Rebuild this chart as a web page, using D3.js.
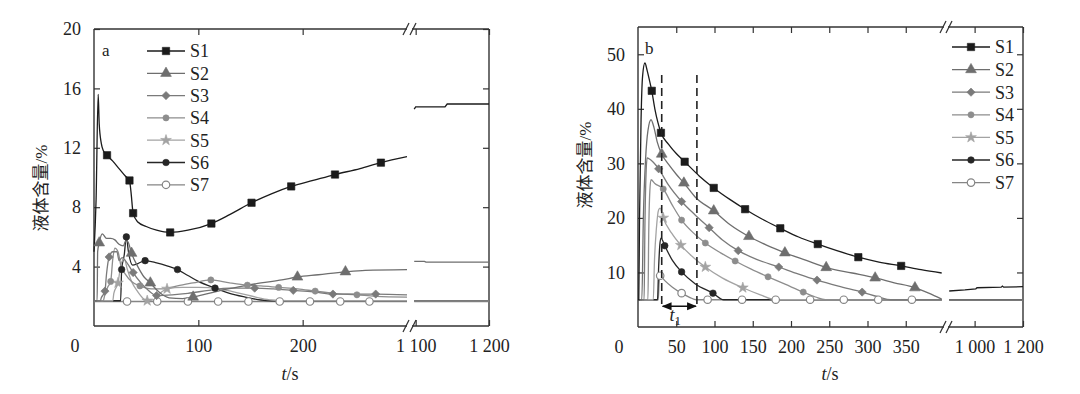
<!DOCTYPE html>
<html>
<head>
<meta charset="utf-8">
<script src="https://cdn.jsdelivr.net/npm/d3@7"></script>
<style>
  body { margin: 0; background: #fff; }
  svg { display: block; }
  text { font-family: "Liberation Serif", "Times New Roman", serif; fill: #222; }
  .cjk { font-family: "Noto Sans CJK SC", "Noto Sans CJK JP", sans-serif; }
</style>
</head>
<body>
<div id="chart"></div>
<script>
// series names and look
const seriesNames = ["S1", "S2", "S3", "S4", "S5", "S6", "S7"];
const seriesColors = ["#1b1b1b", "#6e6e6e", "#7a7a7a", "#8d8d8d", "#a3a3a3", "#262626", "#858585"];

// panel a : [t (s), liquid content (%), 1 = marker drawn]
const aS1 = [[0,5.0],[2,8.5],[4,15.6],[5,13.6],[7,12.3],[9,11.8],[12.5,11.5,1],[18,11.1],[24,10.6],[30,10.1],[34,9.8,1],[35.5,9.0],[37.5,7.6,1],[42,7.0],[50,6.7],[60,6.45],[73,6.3,1],[90,6.45],[112.5,6.9,1],[130,7.5],[151,8.3,1],[170,8.9],[189,9.4,1],[210,9.8],[231,10.2,1],[255,10.6],[275,11.0,1],[300,11.4]];
const aS2 = [[0,1.7],[3,1.7],[3.5,5.0],[5,5.6,1],[8,6.2],[12,5.9],[16,5.9],[20,5.8],[24,5.5],[28,5.4],[31,5.8],[33,5.6],[36,4.9,1],[42,4.0],[48,3.3],[54,2.9,1],[62,2.3],[72,1.9],[85,1.85],[95,1.95,1],[110,2.2],[125,2.45],[140,2.65],[160,2.9],[180,3.1],[195,3.3,1],[215,3.45],[241,3.65,1],[260,3.75],[300,3.8]];
const aS3 = [[0,1.7],[6,1.7],[7,1.9],[10.5,2.35,1],[12,3.5],[14.5,4.65,1],[18,5.0],[22,5.0],[24,4.4],[27,4.6],[30,4.4],[34,4.0],[37.5,3.6,1],[45,2.9],[52,2.4],[60,2.05,1],[75,2.1],[90,2.2],[110,2.4],[130,2.55],[154,2.55,1],[172,2.5],[191,2.4,1],[210,2.3],[229,2.15,1],[250,2.15],[270,2.15,1],[300,2.1]];
const aS4 = [[0,1.7],[9,1.7],[10,2.0],[13,2.6],[16,3.0,1],[18,4.5],[20,5.25],[23,5.0],[26,4.0],[30,3.5],[36,3.0],[44,2.7,1],[55,2.5],[65,2.5],[80,2.7],[95,2.9],[112,3.1,1],[130,2.9],[147,2.75,1],[160,2.7],[177,2.6,1],[195,2.5],[212,2.35,1],[230,2.2],[252,2.1,1],[270,2.0],[300,1.95]];
const aS5 = [[0,1.7],[18,1.7],[19,2.2],[23,2.9,1],[26,4.2],[29,4.5],[32,3.8],[36,3.0],[42,2.3],[48,1.8],[51,1.7,1],[58,1.8],[65,2.3],[70,2.5,1],[85,2.6],[100,2.6],[120,2.5],[140,2.2],[158,1.9],[170,1.75],[185,1.7],[300,1.7]];
const aS6 = [[0,1.7],[25.5,1.7],[26.5,3.8,1],[29,4.8],[31,6.0,1],[33,5.0],[37,4.1],[42,4.2],[49,4.4,1],[60,4.25],[70,4.05],[80,3.8,1],[90,3.4],[100,3.0],[116,2.55,1],[130,2.2],[145,1.95],[160,1.75],[170,1.7],[300,1.7]];
const aS7 = [[0,1.65],[31.7,1.65,1],[60.6,1.65,1],[90,1.65,1],[119,1.65,1],[148,1.65,1],[178,1.65,1],[207,1.65,1],[236,1.65,1],[264,1.65,1],[300,1.65]];
// panel a, after the axis break
const aS1Far = [[1098,14.6],[1100,14.75],[1140,14.75],[1143,14.95],[1200,14.95]];
const aS2Far = [[1098,4.35],[1112,4.35],[1114,4.3],[1200,4.3]];
const aS3Far = [[1098,1.7],[1200,1.7]];
const aS4Far = [[1098,1.7],[1200,1.7]];
const aS5Far = [[1098,1.7],[1200,1.7]];
const aS6Far = [[1098,1.7],[1200,1.7]];
const aS7Far = [[1098,1.65],[1200,1.65]];

// panel b
const bS1 = [[0,5.0],[1,5.0],[2,20],[4,38],[6,46],[9,48.4],[12,47],[15,45.2],[18,43.3,1],[22,40],[26,37.5],[30,35.6,1],[40,33.5],[50,31.8],[61,30.3,1],[80,27.7],[99,25.5,1],[120,23.4],[140,21.6,1],[162,19.8],[186,18.1,1],[210,16.5],[235,15.2,1],[260,14.0],[288,12.8,1],[315,11.9],[344,11.2,1],[370,10.5],[397,9.9]];
const bS2 = [[0,5.0],[5,5.0],[7,20],[10,31],[13,36],[17,38],[21,36.5],[25,34],[31,31.7,1],[40,29.8],[50,28],[60,26.4,1],[75,23.8],[99,21.3,1],[120,18.8],[145,16.6,1],[168,15],[192,13.6,1],[220,12.2],[246,10.9,1],[280,9.9],[310,9.0,1],[335,8.1],[362,7.2,1],[380,6.2],[397,5.1]];
const bS3 = [[0,5.0],[8,5.0],[9,18],[10.5,28],[12,31],[15,30.8],[20,30.2],[27,29,1],[40,26],[57,23,1],[75,20.5],[93,18.2,1],[110,16],[131,14.0,1],[155,12.4],[184,11.0,1],[210,9.7],[234,8.6,1],[262,7.5],[293,6.4,1],[315,5.5],[330,5.0],[397,5.0]];
const bS4 = [[0,5.0],[13,5.0],[14,17],[15.5,25],[17,27],[22,26.3],[33,25.3,1],[45,22.3],[57,19.6,1],[72,17.3],[88,15.4,1],[108,13.6],[127,12.1,1],[148,10.6],[170,9.2,1],[193,7.8],[216,6.4,1],[232,5.5],[245,5.0],[397,5.0]];
const bS5 = [[0,5.0],[20,5.0],[21.5,12],[24,18],[27,21.5],[29,21.8],[33,20,1],[44,17.2],[56,15.0,1],[72,12.8],[88,11.0,1],[110,9.0],[137,7.2,1],[160,5.9],[180,5.0],[397,5.0]];
const bS6 = [[0,5.0],[25.5,5.0],[27,11],[28.5,15],[30,16.3],[35,14.9,1],[45,12.2],[57,10.1,1],[75,7.9],[98,6.2,1],[112,5.0],[397,5.0]];
const bS7 = [[0,5.0],[26.5,5.0],[27.5,8],[29,9.4,1],[35,8.5],[45,7.3],[57,6.2,1],[68,5.4],[76,5.0],[91,5.0,1],[136,5.0,1],[180,5.0,1],[225,5.0,1],[269,5.0,1],[314,5.0,1],[358,5.0,1],[397,5.0]];
const bS1Far = [[895,6.6],[960,6.8],[1005,7.0],[1010,7.2],[1110,7.3],[1115,7.5],[1120,7.3],[1200,7.4]];
const bRestFar = [[895,5.0],[1200,5.0]];

// ticks
const aYTicks = [4, 8, 12, 16, 20];
const aXTicksNear = [100, 200];
const aXTicksFar = [1100, 1200];
const bYTicks = [10, 20, 30, 40, 50];
const bXTicksNear = [50, 100, 150, 200, 250, 300, 350];
const bXTicksFar = [1000, 1200];

// dashed markers and t1 span in panel b
const bDashT = [31, 77];
const bDashV = [3.7, 46.2];

const width = 1080, height = 394;

const svg = d3.select("#chart").append("svg")
    .attr("width", width)
    .attr("height", height);

svg.append("defs").append("marker")
    .attr("id", "arrow")
    .attr("viewBox", "0 0 10 10")
    .attr("refX", 9).attr("refY", 5)
    .attr("markerWidth", 7).attr("markerHeight", 7)
    .attr("orient", "auto-start-reverse")
    .append("path")
    .attr("d", "M0,1 L10,5 L0,9 Z")
    .attr("fill", "#111");

// S3 diamond = square turned 45 degrees
const symbolTypes = [d3.symbolSquare, d3.symbolTriangle, d3.symbolSquare, d3.symbolCircle, d3.symbolStar, d3.symbolCircle, d3.symbolCircle];
const symbolSizes = [54, 50, 34, 30, 36, 34, 44];

function fmtTick(d) {
    // "1 100" style thousands
    return d >= 1000 ? String(d).replace(/(\d)(\d{3})$/, "$1 $2") : String(d);
}

function styleAxis(a) {
    a.select(".domain").remove();
    a.attr("font-family", null).attr("font-size", 18);
    a.selectAll("line").attr("stroke", "#333").attr("stroke-width", 1.2);
    a.selectAll("text").attr("fill", "#222");
}

function drawMarker(g, i, x, y) {
    g.append("path")
        .attr("transform", `translate(${x},${y})` + (i === 2 ? " rotate(45)" : ""))
        .attr("d", d3.symbol().type(symbolTypes[i]).size(symbolSizes[i])())
        .attr("fill", i === 6 ? "#fff" : seriesColors[i])
        .attr("stroke", seriesColors[i])
        .attr("stroke-width", i === 6 ? 1.2 : 0.6);
}

function drawPanel(p) {
    const g = svg.append("g");
    const [x0, xb1] = p.xNear.range();
    const [xb2, xEnd] = p.xFar.range();
    const [yB, yT] = p.y.range();

    // axes (inward ticks)
    g.append("g").attr("transform", `translate(0,${yB})`)
        .call(d3.axisBottom(p.xNear).tickValues(p.xTicksNear).tickSizeInner(-6).tickSizeOuter(0).tickPadding(13).tickFormat(fmtTick))
        .call(styleAxis);
    g.append("g").attr("transform", `translate(0,${yB})`)
        .call(d3.axisBottom(p.xFar).tickValues(p.xTicksFar).tickSizeInner(-6).tickSizeOuter(0).tickPadding(13).tickFormat(fmtTick))
        .call(styleAxis);
    g.append("g").attr("transform", `translate(0,${yT})`)
        .call(d3.axisTop(p.xNear).tickValues(p.xTicksNear).tickSizeInner(-6).tickSizeOuter(0).tickFormat(""))
        .call(styleAxis);
    g.append("g").attr("transform", `translate(0,${yT})`)
        .call(d3.axisTop(p.xFar).tickValues(p.xTicksFar).tickSizeInner(-6).tickSizeOuter(0).tickFormat(""))
        .call(styleAxis);
    g.append("g").attr("transform", `translate(${x0},0)`)
        .call(d3.axisLeft(p.y).tickValues(p.yTicks).tickSizeInner(-6).tickSizeOuter(0).tickPadding(13))
        .call(styleAxis);
    g.append("g").attr("transform", `translate(${xEnd},0)`)
        .call(d3.axisRight(p.y).tickValues(p.yTicks).tickSizeInner(-6).tickSizeOuter(0).tickFormat(""))
        .call(styleAxis);

    // origin label
    g.append("text")
        .attr("x", x0 - 19).attr("y", yB + 26)
        .attr("text-anchor", "middle").attr("font-size", 18)
        .text("0");

    // frame with break
    const frame = [
        [x0, yT, x0, yB], [xEnd, yT, xEnd, yB],
        [x0, yT, xb1, yT], [xb2, yT, xEnd, yT],
        [x0, yB, xb1, yB], [xb2, yB, xEnd, yB]
    ];
    g.selectAll(".frame").data(frame).enter().append("line")
        .attr("x1", d => d[0]).attr("y1", d => d[1])
        .attr("x2", d => d[2]).attr("y2", d => d[3])
        .attr("stroke", "#333").attr("stroke-width", 1.4);
    [yT, yB].forEach(yy => {
        [xb1 - 1, xb2 + 1].forEach(xx => {
            g.append("line")
                .attr("x1", xx - 3).attr("y1", yy + 6)
                .attr("x2", xx + 3).attr("y2", yy - 6)
                .attr("stroke", "#333").attr("stroke-width", 1.2);
        });
    });

    // series lines (S7 first so S1 sits on top)
    const lineNear = d3.line().x(d => p.xNear(d[0])).y(d => p.y(d[1])).curve(d3.curveMonotoneX);
    const lineFar = d3.line().x(d => p.xFar(d[0])).y(d => p.y(d[1]));
    for (let i = p.near.length - 1; i >= 0; i--) {
        g.append("path").attr("d", lineFar(p.far[i]))
            .attr("fill", "none").attr("stroke", seriesColors[i]).attr("stroke-width", 1.3);
        g.append("path").attr("d", lineNear(p.near[i]))
            .attr("fill", "none").attr("stroke", seriesColors[i]).attr("stroke-width", 1.3);
    }
    for (let i = p.near.length - 1; i >= 0; i--) {
        p.near[i].filter(d => d[2]).forEach(d => drawMarker(g, i, p.xNear(d[0]), p.y(d[1])));
    }

    // panel letter
    g.append("text").attr("x", p.letterX).attr("y", p.letterY)
        .attr("font-size", 17).text(p.letter);

    // legend
    const lg = g.append("g");
    seriesNames.forEach((name, i) => {
        const yy = p.legY + i * p.legStep;
        lg.append("line")
            .attr("x1", p.legX).attr("x2", p.legX + 38)
            .attr("y1", yy).attr("y2", yy)
            .attr("stroke", seriesColors[i]).attr("stroke-width", 1.3);
        drawMarker(lg, i, p.legX + 19, yy);
        lg.append("text")
            .attr("x", p.legX + 43).attr("y", yy)
            .attr("dy", "0.35em").attr("font-size", 18)
            .text(name);
    });

    // axis titles
    const xt = g.append("text")
        .attr("x", p.xTitleX).attr("y", 380)
        .attr("text-anchor", "middle").attr("font-size", 18);
    xt.append("tspan").attr("font-style", "italic").text("t");
    xt.append("tspan").text("/s");

    const yt = g.append("text")
        .attr("transform", `translate(${p.yTitleX},${p.yTitleY}) rotate(-90)`)
        .attr("text-anchor", "middle").attr("font-size", 17);
    yt.append("tspan").attr("class", "cjk").text("液体含量");
    yt.append("tspan").text("/%");
    return g;
}

// panel a
drawPanel({
    xNear: d3.scaleLinear().domain([0, 300]).range([94, 407]),
    xFar: d3.scaleLinear().domain([1095, 1200]).range([412, 489]),
    y: d3.scaleLinear().domain([0, 20]).range([326, 29]),
    xTicksNear: aXTicksNear, xTicksFar: aXTicksFar, yTicks: aYTicks,
    near: [aS1, aS2, aS3, aS4, aS5, aS6, aS7],
    far: [aS1Far, aS2Far, aS3Far, aS4Far, aS5Far, aS6Far, aS7Far],
    letter: "a", letterX: 102, letterY: 56,
    legX: 147, legY: 51, legStep: 22.3,
    xTitleX: 290, yTitleX: 47, yTitleY: 188
});

// panel b
const bx = d3.scaleLinear().domain([0, 400]).range([638, 944]);
const by = d3.scaleLinear().domain([0, 55]).range([327, 27]);
const gb = drawPanel({
    xNear: bx,
    xFar: d3.scaleLinear().domain([890, 1200]).range([948, 1023]),
    y: by,
    xTicksNear: bXTicksNear, xTicksFar: bXTicksFar, yTicks: bYTicks,
    near: [bS1, bS2, bS3, bS4, bS5, bS6, bS7],
    far: [bS1Far, bRestFar, bRestFar, bRestFar, bRestFar, bRestFar, bRestFar],
    letter: "b", letterX: 645, letterY: 54,
    legX: 952, legY: 47, legStep: 22.6,
    xTitleX: 830, yTitleX: 591, yTitleY: 165
});

// dashed guide lines and t1 span
bDashT.forEach(t => {
    gb.append("line")
        .attr("x1", bx(t)).attr("x2", bx(t))
        .attr("y1", by(bDashV[1])).attr("y2", by(bDashV[0]))
        .attr("stroke", "#222").attr("stroke-width", 1.6)
        .attr("stroke-dasharray", "8,5");
});
gb.append("line")
    .attr("x1", bx(bDashT[0]) + 1).attr("x2", bx(bDashT[1]) - 1)
    .attr("y1", by(3.8)).attr("y2", by(3.8))
    .attr("stroke", "#111").attr("stroke-width", 1.4)
    .attr("marker-start", "url(#arrow)").attr("marker-end", "url(#arrow)");
const t1 = gb.append("text")
    .attr("x", bx((bDashT[0] + bDashT[1]) / 2) - 4).attr("y", 321)
    .attr("text-anchor", "middle").attr("font-size", 18);
t1.append("tspan").attr("font-style", "italic").text("t");
t1.append("tspan").attr("font-size", 13).attr("dy", 4).text("1");
</script>
</body>
</html>
